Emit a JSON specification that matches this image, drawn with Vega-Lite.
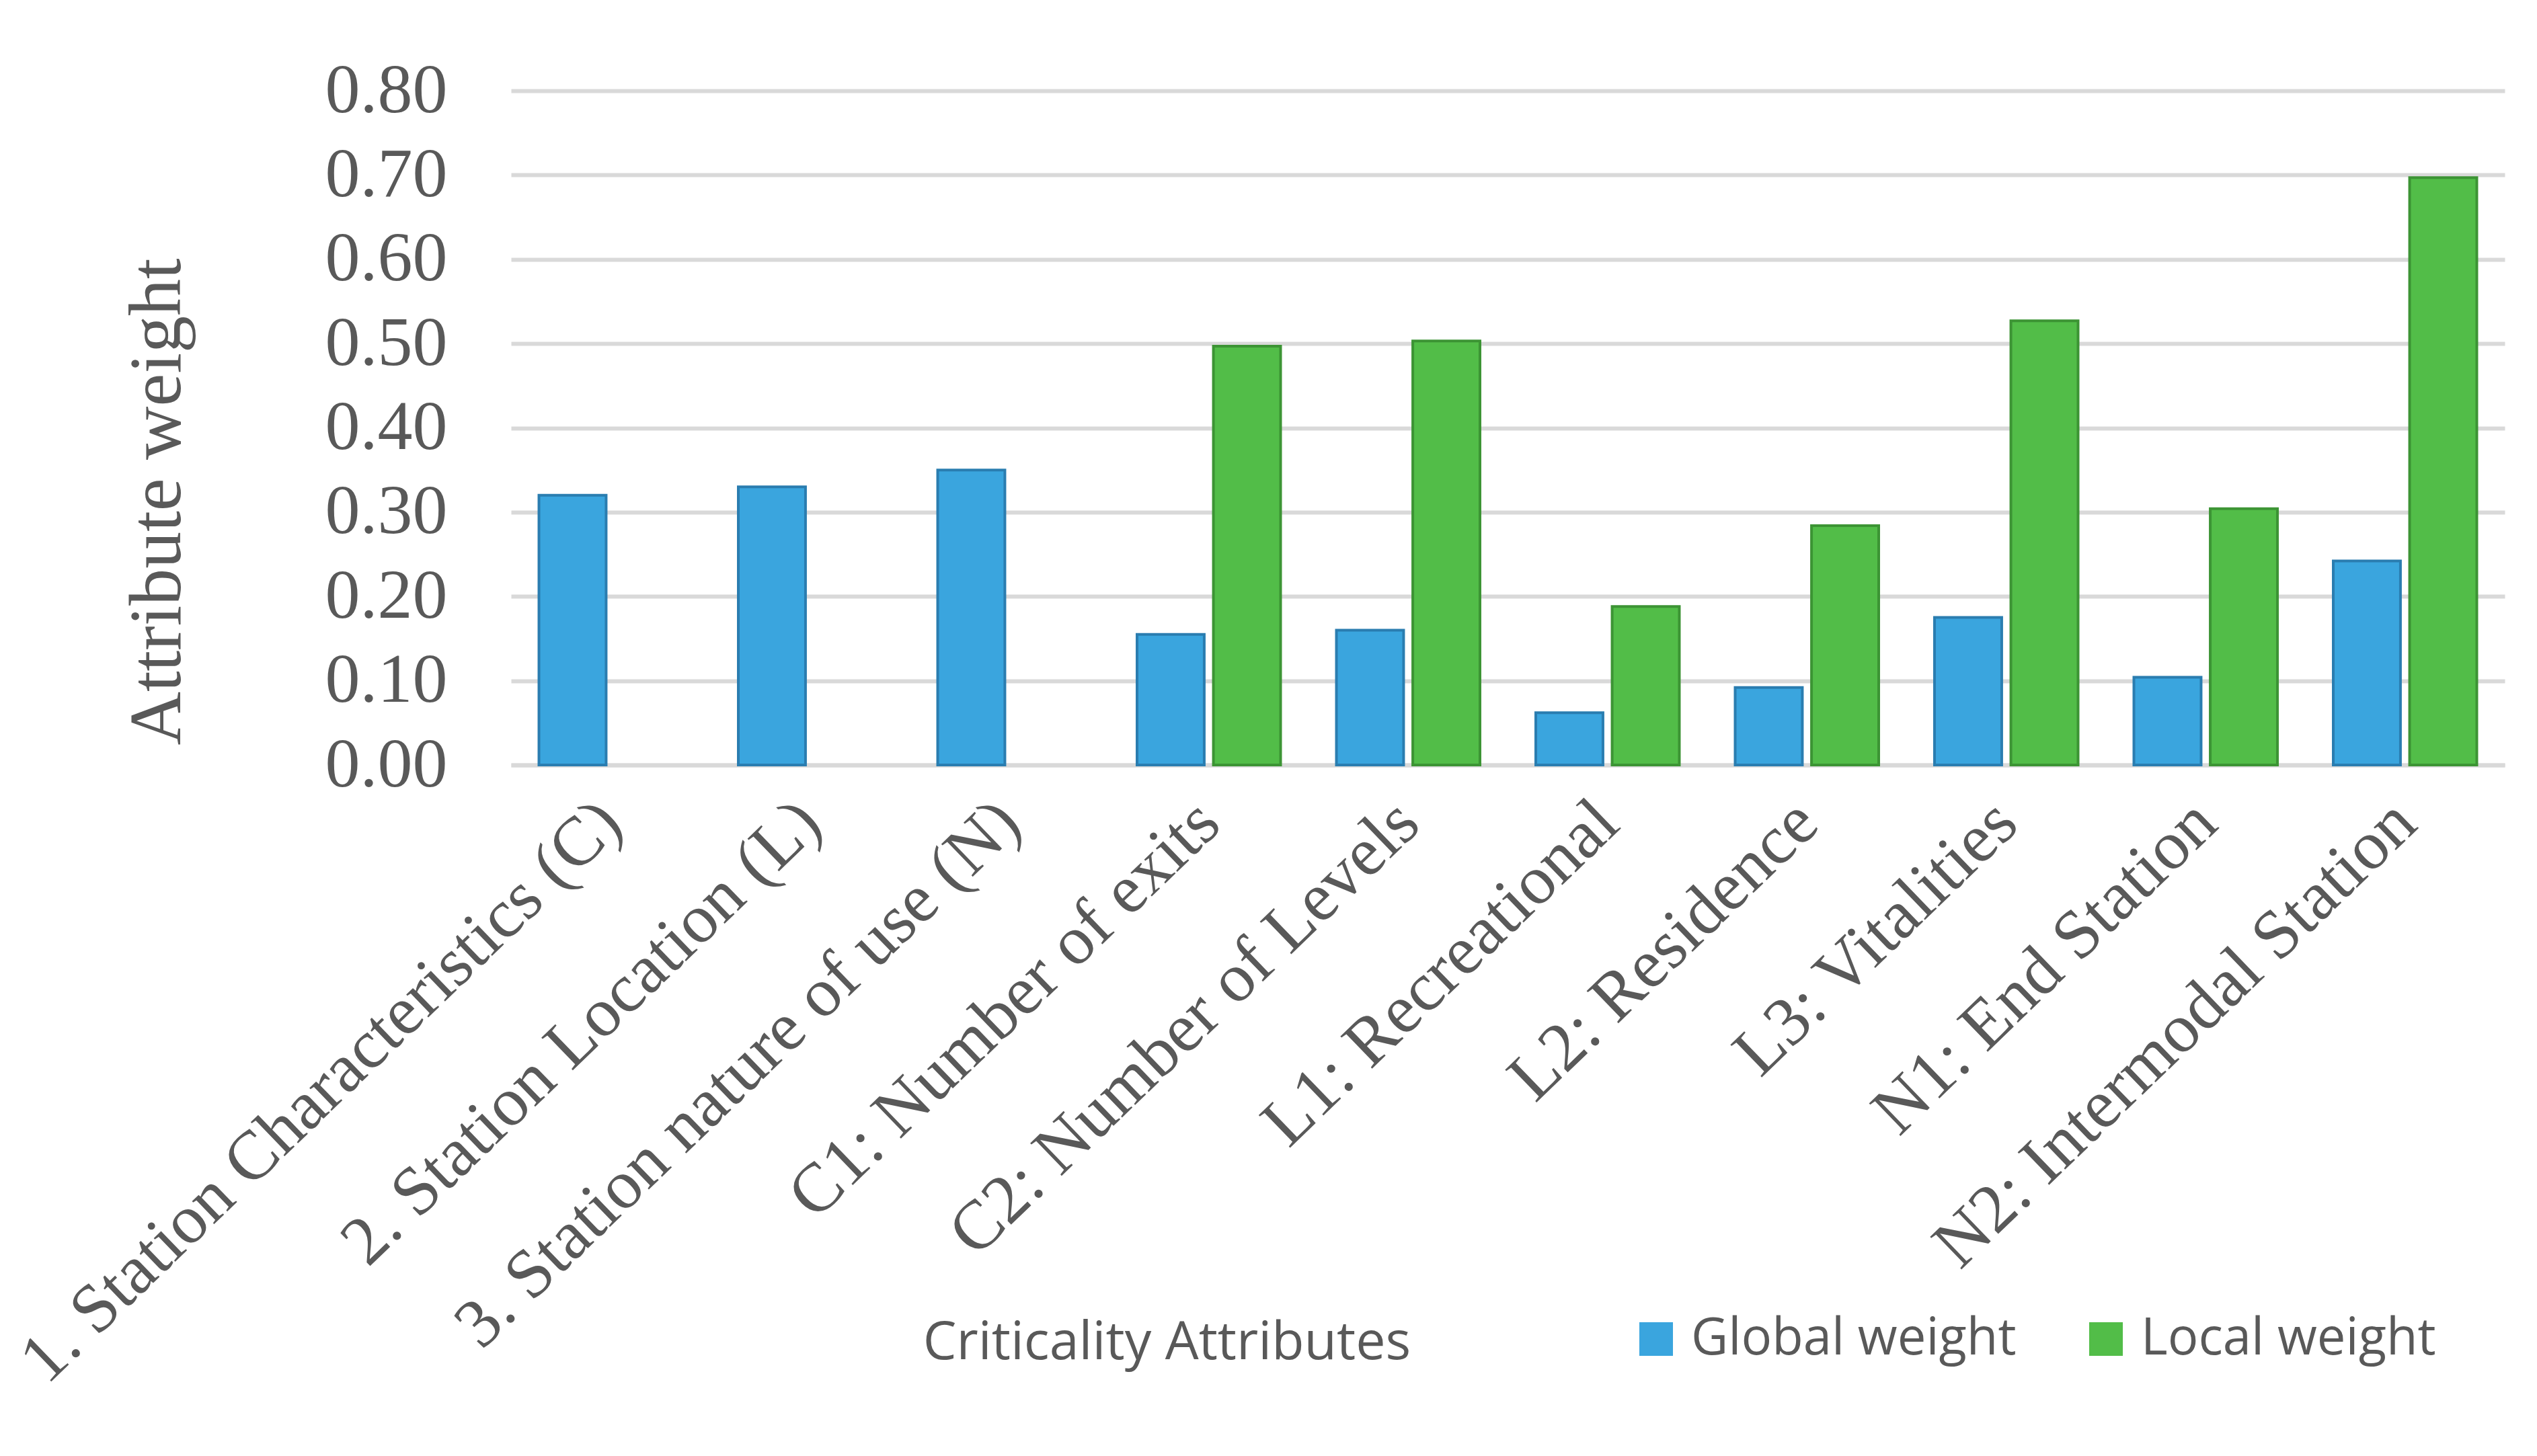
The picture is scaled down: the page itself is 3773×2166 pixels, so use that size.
{
  "$schema": "https://vega.github.io/schema/vega-lite/v6.json",
  "autosize": {"type": "none"},
  "width": 2965,
  "height": 1003,
  "padding": {"left": 760, "top": 135, "right": 48, "bottom": 1028},
  "background": "#ffffff",
  "data": {
    "values": [
      {"attribute": "1. Station Characteristics (C)", "series": "Global weight", "weight": 0.32},
      {"attribute": "2. Station Location (L)", "series": "Global weight", "weight": 0.33},
      {"attribute": "3. Station nature of use (N)", "series": "Global weight", "weight": 0.35},
      {"attribute": "C1: Number of exits", "series": "Global weight", "weight": 0.155},
      {"attribute": "C1: Number of exits", "series": "Local weight", "weight": 0.497},
      {"attribute": "C2: Number of Levels", "series": "Global weight", "weight": 0.16},
      {"attribute": "C2: Number of Levels", "series": "Local weight", "weight": 0.503},
      {"attribute": "L1: Recreational", "series": "Global weight", "weight": 0.062},
      {"attribute": "L1: Recreational", "series": "Local weight", "weight": 0.188},
      {"attribute": "L2: Residence", "series": "Global weight", "weight": 0.092},
      {"attribute": "L2: Residence", "series": "Local weight", "weight": 0.284},
      {"attribute": "L3: Vitalities", "series": "Global weight", "weight": 0.175},
      {"attribute": "L3: Vitalities", "series": "Local weight", "weight": 0.527},
      {"attribute": "N1: End Station", "series": "Global weight", "weight": 0.104},
      {"attribute": "N1: End Station", "series": "Local weight", "weight": 0.304},
      {"attribute": "N2: Intermodal Station", "series": "Global weight", "weight": 0.242},
      {"attribute": "N2: Intermodal Station", "series": "Local weight", "weight": 0.697}
    ]
  },
  "mark": {"type": "bar", "strokeWidth": 4},
  "encoding": {
    "x": {
      "field": "attribute",
      "type": "nominal",
      "sort": null,
      "scale": {"paddingInner": 0.28, "paddingOuter": 0.14},
      "axis": {
        "title": "Criticality Attributes",
        "titleFont": "Open Sans",
        "titleFontSize": 79,
        "titleFontWeight": "normal",
        "titleColor": "#595959",
        "titleX": 975,
        "titleY": 859,
        "titleAlign": "center",
        "titleBaseline": "middle",
        "labelFont": "Liberation Serif",
        "labelFontSize": 103,
        "labelColor": "#595959",
        "labelAngle": -44,
        "labelAlign": "right",
        "labelBaseline": "middle",
        "labelPadding": 70,
        "labelLimit": 2000,
        "ticks": false,
        "domain": true,
        "domainColor": "#d9d9d9",
        "domainWidth": 6,
        "grid": false
      }
    },
    "xOffset": {"field": "series", "type": "nominal", "scale": {"paddingInner": 0.12}},
    "y": {
      "field": "weight",
      "type": "quantitative",
      "scale": {"domain": [0, 0.8], "nice": false},
      "axis": {
        "title": "Attribute weight",
        "titleFont": "Liberation Serif",
        "titleFontSize": 110,
        "titleFontWeight": "normal",
        "titleColor": "#595959",
        "titlePadding": 270,
        "titleY": 611,
        "labelFont": "Liberation Serif",
        "labelFontSize": 104,
        "labelColor": "#595959",
        "labelPadding": 95,
        "labelLimit": 1000,
        "format": ".2f",
        "values": [0, 0.1, 0.2, 0.3, 0.4, 0.5, 0.6, 0.7, 0.8],
        "ticks": false,
        "domain": false,
        "grid": true,
        "gridColor": "#d9d9d9",
        "gridWidth": 6
      }
    },
    "color": {
      "field": "series",
      "type": "nominal",
      "scale": {"domain": ["Global weight", "Local weight"], "range": ["#3aa5de", "#52bd48"]},
      "legend": {
        "title": null,
        "orient": "none",
        "direction": "horizontal",
        "legendX": 1665,
        "legendY": 1819,
        "padding": 0,
        "symbolType": "square",
        "symbolSize": 2500,
        "symbolStrokeWidth": 0,
        "labelFont": "Open Sans",
        "labelFontSize": 76,
        "labelColor": "#595959",
        "labelOffset": 14,
        "labelLimit": 1000,
        "columnPadding": 95
      }
    },
    "stroke": {
      "field": "series",
      "type": "nominal",
      "scale": {"domain": ["Global weight", "Local weight"], "range": ["#2a7db0", "#3c9434"]},
      "legend": null
    }
  },
  "config": {"view": {"stroke": null}}
}
